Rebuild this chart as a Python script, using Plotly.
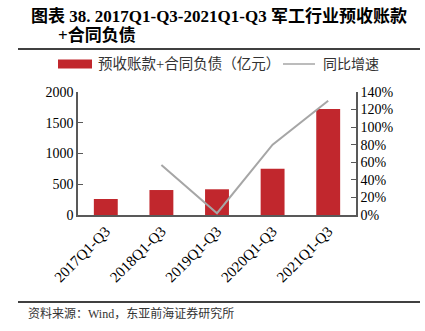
import plotly.graph_objects as go

categories = ["2017Q1-Q3", "2018Q1-Q3", "2019Q1-Q3", "2020Q1-Q3", "2021Q1-Q3"]
advance_plus_contract = [260, 406, 418, 753, 1724]          # 亿元
yoy_growth = [None, 57, 2, 80, 130]                          # %

bar_name = "预收账款+合同负债（亿元）"
line_name = "同比增速"

SERIF = "Liberation Serif, Times New Roman, Noto Sans CJK SC"
BAR_COL = "#C1272D"
LINE_COL = "#A6A6A6"

L, T, PW, PH = 78, 92, 278, 123  # plot area in px


def px(x):
    return (x - L) / PW


def py(y):
    return 1 - (y - T) / PH


fig = go.Figure()
fig.add_trace(go.Bar(
    x=categories, y=advance_plus_contract, name=bar_name,
    marker=dict(color=BAR_COL, line=dict(width=0)), width=0.43,
    yaxis="y", showlegend=False,
))
fig.add_trace(go.Scatter(
    x=categories, y=yoy_growth, name=line_name, mode="lines",
    line=dict(color=LINE_COL, width=2), yaxis="y2", connectgaps=False,
    showlegend=False,
))

axis_col = "#595959"
fig.update_layout(
    width=425, height=331,
    margin=dict(l=78, r=69, t=92, b=116),
    paper_bgcolor="white", plot_bgcolor="white",
    font=dict(family=SERIF, size=14, color="#000000"),
    showlegend=False,
    xaxis=dict(
        showgrid=False, showline=True, linecolor=axis_col, linewidth=1.5,
        ticks="", tickangle=-45, tickfont=dict(family=SERIF, size=15),
        range=[-0.5, 4.5],
    ),
    yaxis=dict(
        range=[0, 2000], dtick=500, showgrid=False, showline=True,
        linecolor=axis_col, linewidth=1.5, ticks="inside", ticklen=5,
        tickcolor=axis_col, tickfont=dict(family=SERIF, size=14), zeroline=False,
    ),
    yaxis2=dict(
        range=[0, 140], dtick=20, overlaying="y", side="right", showgrid=False,
        showline=True, linecolor=axis_col, linewidth=1.5, ticks="inside",
        ticklen=5, tickcolor=axis_col, ticksuffix="%",
        tickfont=dict(family=SERIF, size=14), zeroline=False,
    ),
    annotations=[
        dict(text="<b>图表 38. 2017Q1-Q3-2021Q1-Q3 军工行业预收账款</b>",
             xref="paper", yref="paper", x=px(29), y=py(16),
             xanchor="left", yanchor="middle", showarrow=False,
             font=dict(family=SERIF, size=17, color="#000000")),
        dict(text="<b>+合同负债</b>",
             xref="paper", yref="paper", x=px(56), y=py(35),
             xanchor="left", yanchor="middle", showarrow=False,
             font=dict(family=SERIF, size=17, color="#000000")),
        dict(text=bar_name,
             xref="paper", yref="paper", x=px(96), y=py(64),
             xanchor="left", yanchor="middle", showarrow=False,
             font=dict(family=SERIF, size=14.5, color="#333333")),
        dict(text=line_name,
             xref="paper", yref="paper", x=px(321), y=py(64),
             xanchor="left", yanchor="middle", showarrow=False,
             font=dict(family=SERIF, size=14, color="#333333")),
        dict(text="资料来源：Wind，东亚前海证券研究所",
             xref="paper", yref="paper", x=px(26), y=py(313),
             xanchor="left", yanchor="middle", showarrow=False,
             font=dict(family=SERIF, size=12, color="#333333")),
    ],
    shapes=[
        dict(type="line", xref="paper", yref="paper",
             x0=px(18), x1=px(420), y0=py(49), y1=py(49),
             line=dict(color="#000000", width=1.5)),
        dict(type="line", xref="paper", yref="paper",
             x0=px(18), x1=px(420), y0=py(302), y1=py(302),
             line=dict(color="#000000", width=1.5)),
        dict(type="rect", xref="paper", yref="paper",
             x0=px(58), x1=px(92), y0=py(68.5), y1=py(59.5),
             fillcolor=BAR_COL, line=dict(width=0)),
        dict(type="line", xref="paper", yref="paper",
             x0=px(283), x1=px(315), y0=py(64), y1=py(64),
             line=dict(color=LINE_COL, width=1.5)),
    ],
)

fig.write_html("out.html")
